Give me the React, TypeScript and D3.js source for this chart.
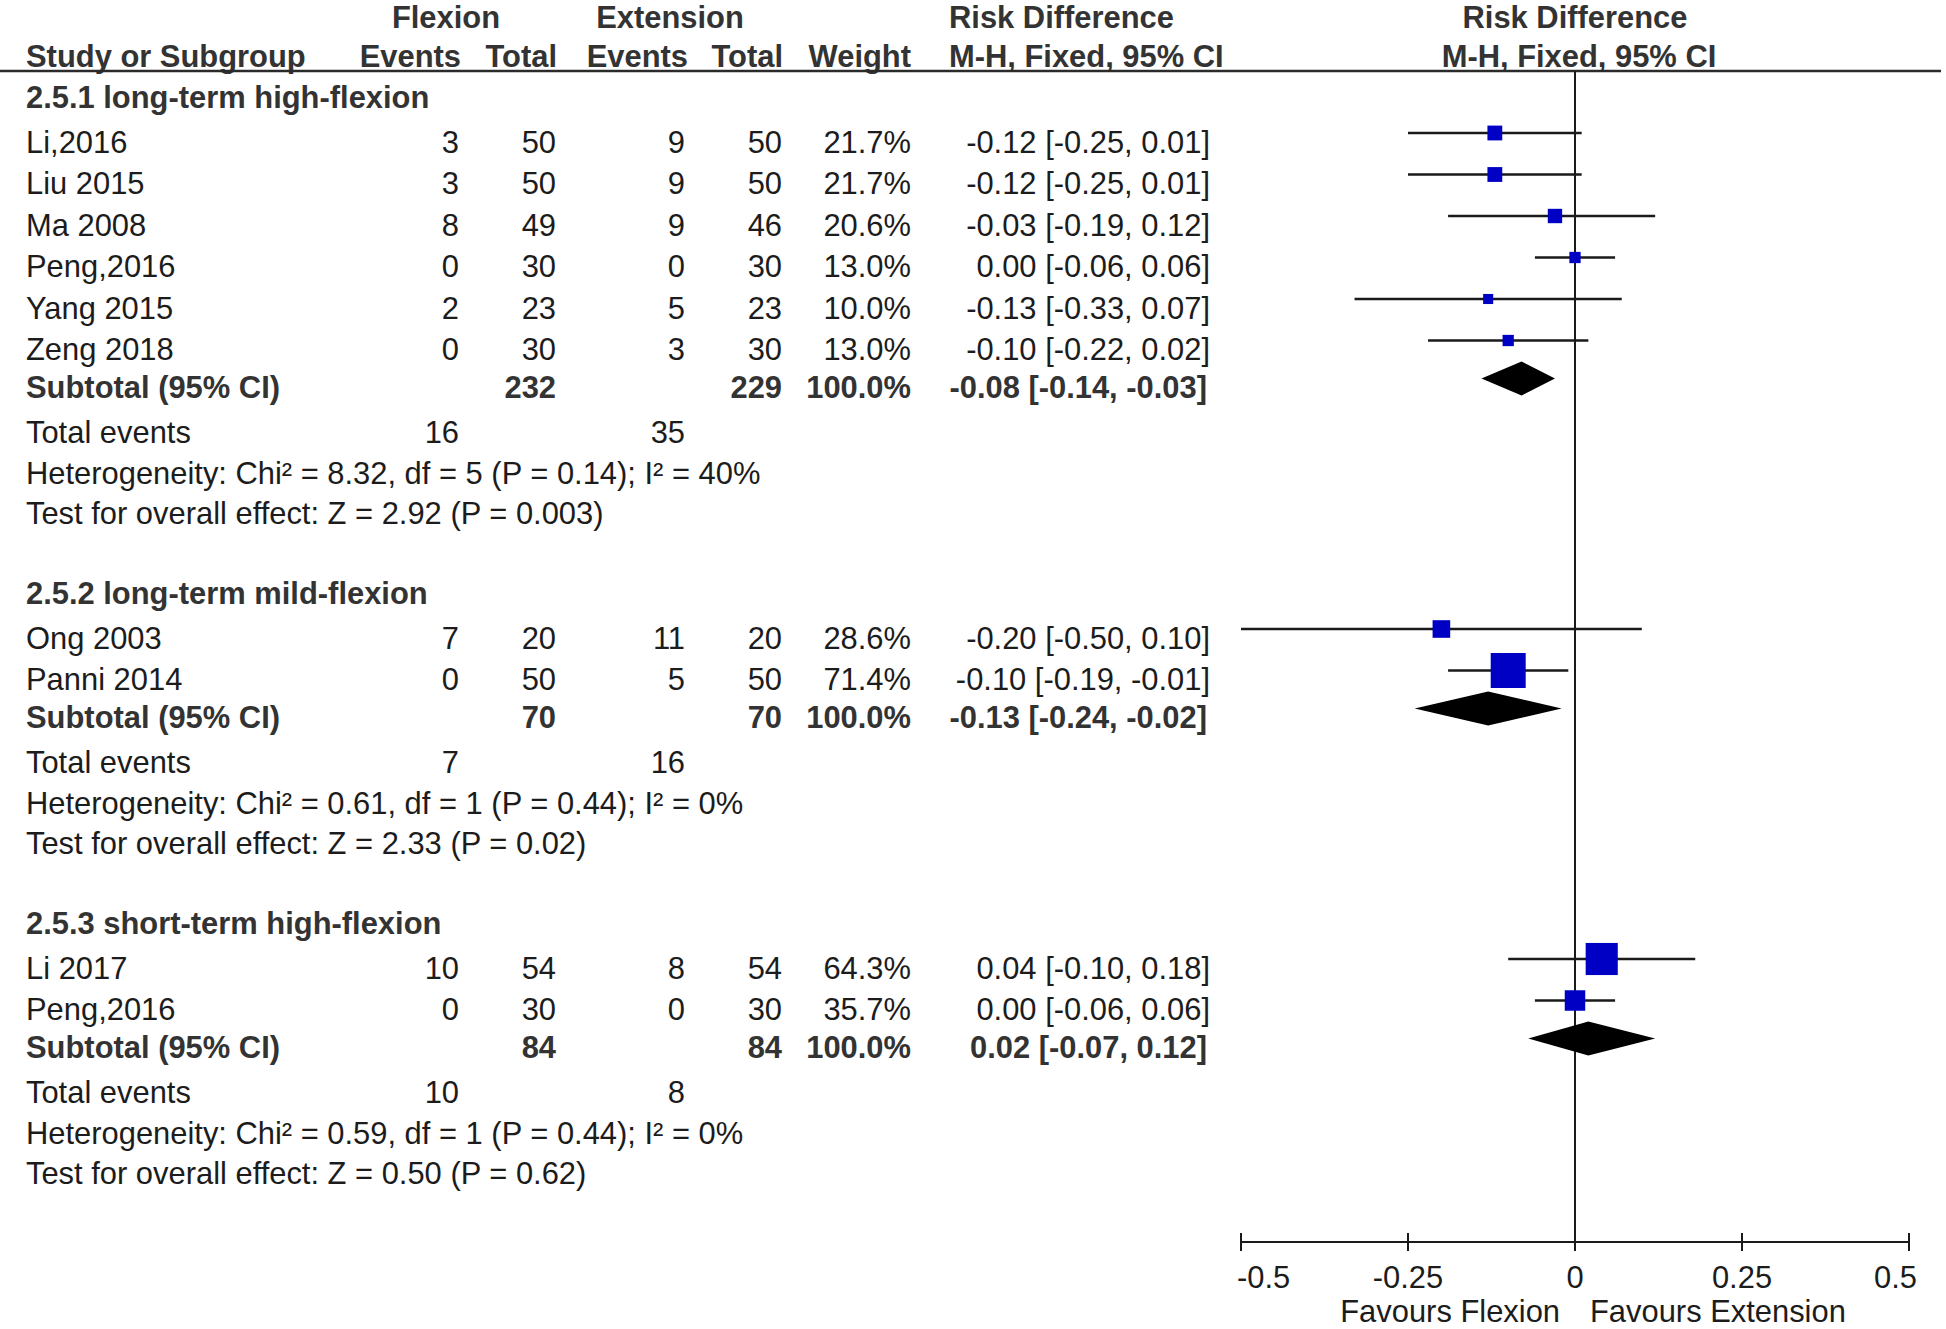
import React from "react";
import * as d3 from "d3";

// ---------- data ----------
const groupNames = [
  "2.5.1 long-term high-flexion",
  "2.5.2 long-term mild-flexion",
  "2.5.3 short-term high-flexion",
];
const studyGroup = [0, 0, 0, 0, 0, 0, 1, 1, 2, 2];
const studyNames = ["Li,2016", "Liu 2015", "Ma 2008", "Peng,2016", "Yang 2015", "Zeng 2018", "Ong 2003", "Panni 2014", "Li 2017", "Peng,2016"];
const flexEvents = [3, 3, 8, 0, 2, 0, 7, 0, 10, 0];
const flexTotal = [50, 50, 49, 30, 23, 30, 20, 50, 54, 30];
const extEvents = [9, 9, 9, 0, 5, 3, 11, 5, 8, 0];
const extTotal = [50, 50, 46, 30, 23, 30, 20, 50, 54, 30];
const weights = [21.7, 21.7, 20.6, 13.0, 10.0, 13.0, 28.6, 71.4, 64.3, 35.7];
const rd = [-0.12, -0.12, -0.03, 0.0, -0.13, -0.1, -0.2, -0.1, 0.04, 0.0];
const rdLo = [-0.25, -0.25, -0.19, -0.06, -0.33, -0.22, -0.5, -0.19, -0.1, -0.06];
const rdHi = [0.01, 0.01, 0.12, 0.06, 0.07, 0.02, 0.1, -0.01, 0.18, 0.06];

const subFlexTotal = [232, 70, 84];
const subExtTotal = [229, 70, 84];
const subRd = [-0.08, -0.13, 0.02];
const subLo = [-0.14, -0.24, -0.07];
const subHi = [-0.03, -0.02, 0.12];
const totFlexEvents = [16, 7, 10];
const totExtEvents = [35, 16, 8];
const heterogeneity = [
  "Heterogeneity: Chi² = 8.32, df = 5 (P = 0.14); I² = 40%",
  "Heterogeneity: Chi² = 0.61, df = 1 (P = 0.44); I² = 0%",
  "Heterogeneity: Chi² = 0.59, df = 1 (P = 0.44); I² = 0%",
];
const overallEffect = [
  "Test for overall effect: Z = 2.92 (P = 0.003)",
  "Test for overall effect: Z = 2.33 (P = 0.02)",
  "Test for overall effect: Z = 0.50 (P = 0.62)",
];
const axisTicks = [-0.5, -0.25, 0, 0.25, 0.5];
const tickLabels = ["-0.5", "-0.25", "0", "0.25", "0.5"];
const favourLeft = "Favours Flexion";
const favourRight = "Favours Extension";

// ---------- layout ----------
const W = 1946;
const H = 1329;
const FS = 30.9;
const FONT = "'Liberation Sans', Arial, sans-serif";
const TXT = "#1c1c1c";
const BOLD = "#333333";
const BASE = 11; // center -> baseline
const MARK = -8.5; // text center -> mark center

const colNameX = 26;
const colFlexEv = 459;
const colFlexTot = 556;
const colExtEv = 685;
const colExtTot = 782;
const colWeight = 911;
const colCI = 1210;
const colRDLeft = 949;

const axisY = 1242;
const ruleY = 71;

const fmt2 = (v: number) => v.toFixed(2);
const ciText = (m: number, l: number, h: number) => `${fmt2(m)} [${fmt2(l)}, ${fmt2(h)}]`;

type T = { x: number; y: number; s: string | number; anchor?: string; bold?: boolean };
const Txt = ({ x, y, s, anchor = "start", bold = false }: T) => (
  <text
    x={x}
    y={y + BASE}
    textAnchor={anchor as any}
    fontFamily={FONT}
    fontSize={FS}
    fontWeight={bold ? "bold" : "normal"}
    fill={bold ? BOLD : TXT}
  >
    {s}
  </text>
);

export default function App() {
  const x = d3.scaleLinear().domain([-0.5, 0.5]).range([1241, 1909]);
  const box = d3.scaleLinear().domain([0, 100]).range([6, 46.6]);

  const els: React.ReactNode[] = [];
  let y = 97;
  groupNames.forEach((g, gi) => {
    els.push(<Txt key={`gh${gi}`} x={colNameX} y={y} s={g} bold />);
    const idx = studyGroup.map((v, i) => (v === gi ? i : -1)).filter((i) => i >= 0);
    const sy = y + 44.5;
    idx.forEach((i, k) => {
      const ry = sy + k * 41.5;
      els.push(
        <g key={`s${i}`}>
          <Txt x={colNameX} y={ry} s={studyNames[i]} />
          <Txt x={colFlexEv} y={ry} s={flexEvents[i]} anchor="end" />
          <Txt x={colFlexTot} y={ry} s={flexTotal[i]} anchor="end" />
          <Txt x={colExtEv} y={ry} s={extEvents[i]} anchor="end" />
          <Txt x={colExtTot} y={ry} s={extTotal[i]} anchor="end" />
          <Txt x={colWeight} y={ry} s={`${weights[i].toFixed(1)}%`} anchor="end" />
          <Txt x={colCI} y={ry} s={ciText(rd[i], rdLo[i], rdHi[i])} anchor="end" />
          <line x1={x(rdLo[i])} x2={x(rdHi[i])} y1={ry + MARK} y2={ry + MARK} stroke="#1a1a1a" strokeWidth={2.6} />
          <rect
            x={x(rd[i]) - box(weights[i]) / 2}
            y={ry + MARK - box(weights[i]) / 2}
            width={box(weights[i])}
            height={box(weights[i])}
            fill="#0000c4"
          />
        </g>
      );
    });
    const last = sy + (idx.length - 1) * 41.5;
    const subY = last + 38;
    const dy = subY + MARK;
    const dPath = `M${x(subLo[gi])},${dy} L${x(subRd[gi])},${dy - 17} L${x(subHi[gi])},${dy} L${x(subRd[gi])},${dy + 17} Z`;
    els.push(
      <g key={`sub${gi}`}>
        <Txt x={colNameX} y={subY} s="Subtotal (95% CI)" bold />
        <Txt x={colFlexTot} y={subY} s={subFlexTotal[gi]} anchor="end" bold />
        <Txt x={colExtTot} y={subY} s={subExtTotal[gi]} anchor="end" bold />
        <Txt x={colWeight} y={subY} s="100.0%" anchor="end" bold />
        <Txt x={colCI - 3} y={subY} s={ciText(subRd[gi], subLo[gi], subHi[gi])} anchor="end" bold />
        <path d={dPath} fill="#000" />
      </g>
    );
    const teY = subY + 45;
    const hetY = teY + 41;
    const ovY = hetY + 40;
    els.push(
      <g key={`tot${gi}`}>
        <Txt x={colNameX} y={teY} s="Total events" />
        <Txt x={colFlexEv} y={teY} s={totFlexEvents[gi]} anchor="end" />
        <Txt x={colExtEv} y={teY} s={totExtEvents[gi]} anchor="end" />
        <Txt x={colNameX} y={hetY} s={heterogeneity[gi]} />
        <Txt x={colNameX} y={ovY} s={overallEffect[gi]} />
      </g>
    );
    y = ovY + 80;
  });

  const x0 = x(0);
  const h1 = 17;

  return (
    <svg
      width={W}
      height={H}
      viewBox={`0 0 ${W} ${H}`}
      style={{ position: "absolute", left: 0, top: 0, background: "#fff" }}
    >
      <rect width={W} height={H} fill="#fff" />
      {/* headers */}
      <Txt x={446} y={h1} s="Flexion" anchor="middle" bold />
      <Txt x={670} y={h1} s="Extension" anchor="middle" bold />
      <Txt x={colRDLeft} y={h1} s="Risk Difference" bold />
      <Txt x={x0} y={h1} s="Risk Difference" anchor="middle" bold />
      <Txt x={colNameX} y={56} s="Study or Subgroup" bold />
      <Txt x={colFlexEv + 2} y={56} s="Events" anchor="end" bold />
      <Txt x={colFlexTot + 1} y={56} s="Total" anchor="end" bold />
      <Txt x={colExtEv + 3} y={56} s="Events" anchor="end" bold />
      <Txt x={colExtTot + 1} y={56} s="Total" anchor="end" bold />
      <Txt x={colWeight} y={56} s="Weight" anchor="end" bold />
      <Txt x={colRDLeft} y={56} s="M-H, Fixed, 95% CI" bold />
      <Txt x={x0 + 4} y={56} s="M-H, Fixed, 95% CI" anchor="middle" bold />
      <line x1={0} x2={1941} y1={ruleY} y2={ruleY} stroke="#2a2a2a" strokeWidth={2.6} />

      {/* zero line */}
      <line x1={x0} x2={x0} y1={ruleY} y2={axisY + 9} stroke="#1a1a1a" strokeWidth={2} />

      {els}

      {/* axis */}
      <line x1={x(-0.5)} x2={x(0.5)} y1={axisY} y2={axisY} stroke="#1a1a1a" strokeWidth={2.2} />
      {axisTicks.map((t, i) => (
        <g key={`t${i}`}>
          <line x1={x(t)} x2={x(t)} y1={axisY - 9} y2={axisY + 9} stroke="#1a1a1a" strokeWidth={2} />
          <Txt
            x={i === 0 ? x(t) - 4 : i === axisTicks.length - 1 ? x(t) + 8 : x(t)}
            y={1277}
            s={tickLabels[i]}
            anchor={i === 0 ? "start" : i === axisTicks.length - 1 ? "end" : "middle"}
          />
        </g>
      ))}
      <Txt x={x0 - 15} y={1311} s={favourLeft} anchor="end" />
      <Txt x={x0 + 15} y={1311} s={favourRight} />
    </svg>
  );
}
